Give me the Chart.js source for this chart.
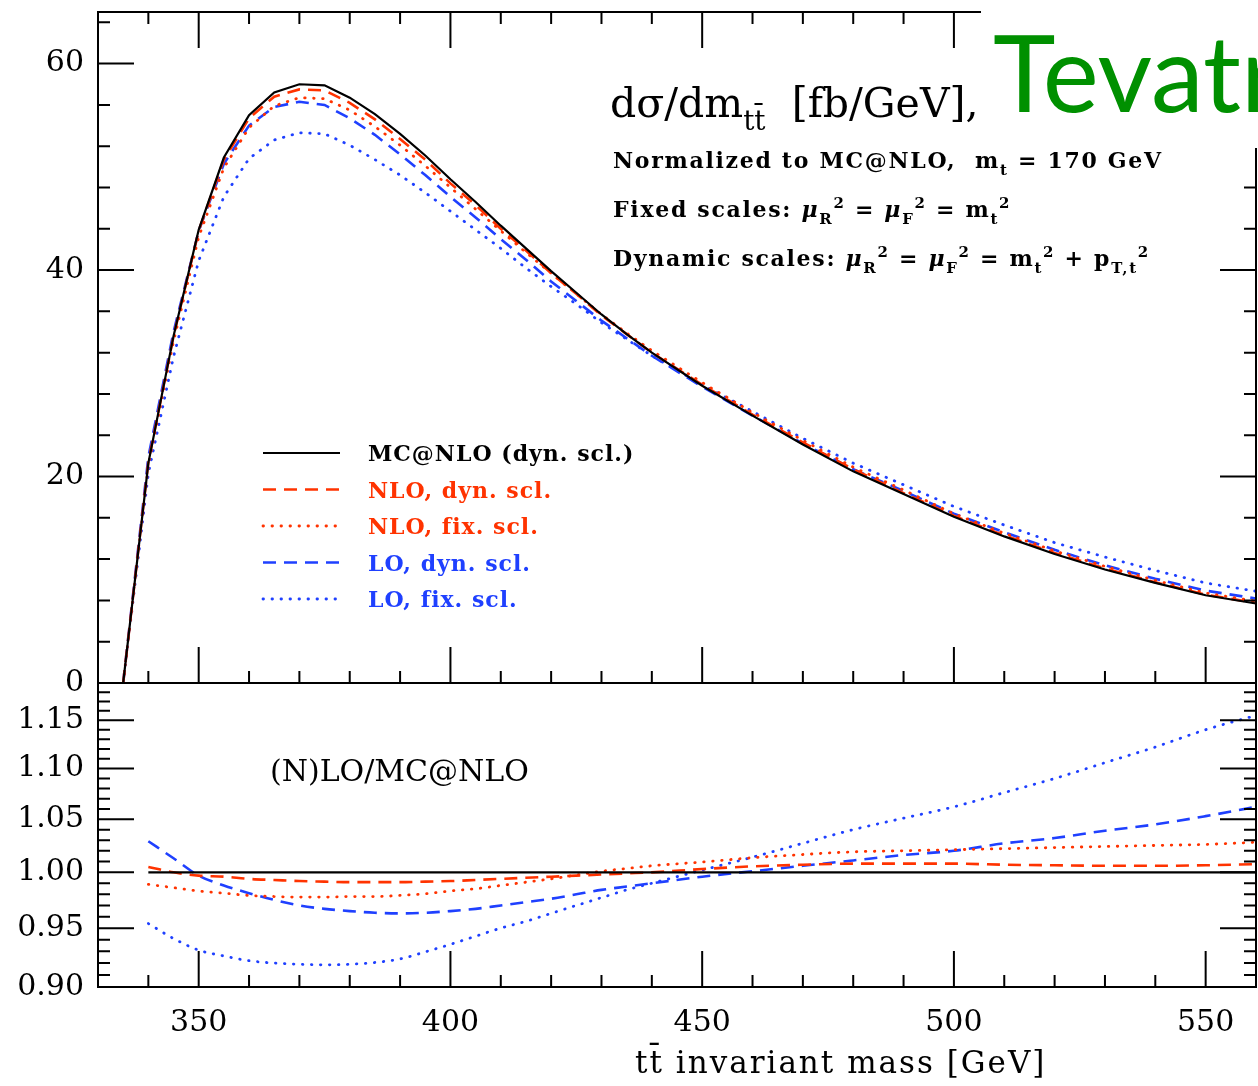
<!DOCTYPE html>
<html>
<head>
<meta charset="utf-8">
<script src="https://cdn.jsdelivr.net/npm/chart.js@4.4.1/dist/chart.umd.min.js"></script>
<style>
  body { margin: 0; background: #fff; }
  #wrap { position: relative; width: 1258px; height: 1086px; overflow: hidden; }
  canvas { position: absolute; left: 0; top: 0; }
</style>
</head>
<body>
<div id="wrap">
  <canvas id="ratio" width="1258" height="1086"></canvas>
  <canvas id="spectrum" width="1258" height="1086"></canvas>
</div>
<script>
// m(tt) bins for the spectrum [GeV]
const massTop = [335, 340, 345, 350, 355, 360, 365, 370, 375, 380, 385, 390, 395, 400, 405, 410, 415, 420, 425, 430, 435, 440,
                 450, 460, 470, 480, 490, 500, 510, 520, 530, 540, 550, 560];
// dsigma/dm [fb/GeV]
const mcatnlo = [0, 21.3, 33.6, 43.9, 50.9, 55.0, 57.2, 58.0, 57.9, 56.7, 55.1, 53.2, 51.1, 48.8, 46.6, 44.3, 42.1, 39.9, 37.8, 35.7, 33.8, 32.0,
                 28.8, 25.9, 23.1, 20.5, 18.3, 16.1, 14.2, 12.5, 11.0, 9.7, 8.5, 7.7];
const nloDyn = [0, 21.4, 33.6, 43.8, 50.7, 54.7, 56.8, 57.5, 57.4, 56.2, 54.6, 52.7, 50.7, 48.4, 46.3, 44.0, 41.9, 39.7, 37.7, 35.6, 33.8, 32.0,
                28.9, 26.0, 23.3, 20.7, 18.4, 16.2, 14.3, 12.6, 11.1, 9.76, 8.56, 7.76];
const nloFix = [0, 21.1, 33.1, 43.2, 49.9, 53.8, 55.9, 56.7, 56.6, 55.5, 53.9, 52.1, 50.1, 48.0, 45.9, 43.8, 41.7, 39.7, 37.7, 35.7, 33.9, 32.2,
                29.1, 26.2, 23.5, 20.9, 18.7, 16.4, 14.5, 12.8, 11.3, 9.94, 8.72, 7.92];
const loDyn = [0, 21.9, 34.0, 43.8, 50.3, 54.0, 55.8, 56.3, 56.0, 54.7, 53.1, 51.2, 49.2, 47.1, 45.1, 43.0, 41.0, 38.9, 37.0, 35.1, 33.4, 31.7,
               28.7, 25.9, 23.2, 20.7, 18.6, 16.4, 14.6, 12.9, 11.4, 10.1, 8.95, 8.18];
const loFix = [0, 20.3, 31.6, 40.9, 47.1, 50.8, 52.6, 53.3, 53.2, 52.1, 50.7, 49.2, 47.5, 45.7, 43.9, 42.1, 40.2, 38.4, 36.7, 34.9, 33.3, 31.7,
               28.9, 26.3, 23.7, 21.3, 19.2, 17.1, 15.3, 13.6, 12.2, 10.9, 9.69, 8.89];

// ratio panel, (N)LO / MC@NLO
const massRatio = [340, 345, 350, 355, 360, 365, 370, 375, 380, 385, 390, 395, 400, 405, 410, 415, 420, 425, 430, 435, 440,
                   450, 460, 470, 480, 490, 500, 510, 520, 530, 540, 550, 560];
const ratioNloDyn = [1.005, 1.000, 0.997, 0.996, 0.994, 0.993, 0.992, 0.9915, 0.991, 0.991, 0.991, 0.9915, 0.992, 0.993, 0.994, 0.995, 0.996, 0.997, 0.998, 0.999, 1.000,
                     1.003, 1.0055, 1.007, 1.008, 1.008, 1.008, 1.007, 1.0065, 1.006, 1.006, 1.0065, 1.0075];
const ratioNloFix = [0.989, 0.986, 0.983, 0.981, 0.979, 0.978, 0.9775, 0.9775, 0.978, 0.978, 0.979, 0.9805, 0.983, 0.985, 0.988, 0.991, 0.994, 0.9975, 1.001, 1.0035, 1.006,
                     1.0095, 1.0135, 1.0165, 1.019, 1.020, 1.021, 1.022, 1.023, 1.024, 1.025, 1.026, 1.028];
const ratioLoDyn = [1.029, 1.013, 0.997, 0.988, 0.981, 0.975, 0.970, 0.967, 0.965, 0.9635, 0.963, 0.9635, 0.965, 0.967, 0.970, 0.973, 0.976, 0.980, 0.984, 0.987, 0.990,
                    0.996, 1.001, 1.006, 1.011, 1.016, 1.020, 1.027, 1.032, 1.039, 1.045, 1.053, 1.062];
const ratioLoFix = [0.954, 0.941, 0.931, 0.926, 0.922, 0.920, 0.919, 0.9185, 0.919, 0.9205, 0.9235, 0.9295, 0.936, 0.943, 0.950, 0.956, 0.963, 0.970, 0.977, 0.984, 0.990,
                    1.002, 1.014, 1.027, 1.040, 1.051, 1.062, 1.076, 1.090, 1.106, 1.122, 1.140, 1.155];
const refMass = [340, 560];
const refRatio = [1, 1];

const seriesLabels = ['MC@NLO (dyn. scl.)', 'NLO, dyn. scl.', 'NLO, fix. scl.', 'LO, dyn. scl.', 'LO, fix. scl.'];
const specTicks = [0, 20, 40, 60];
const ratioTicks = [0.90, 0.95, 1.00, 1.05, 1.10, 1.15];
const massTicks = [350, 400, 450, 500, 550];

const RED = '#ff3300';
const BLUE = '#1f40ff';
const SOLID = [];
const DASH = [13, 8];
const DOT = [0.5, 8.5];
const SERIF = '"DejaVu Serif"';

function line(label, xs, ys, color, dash, width, smooth) {
    return {
        label: label,
        data: xs.map((x, i) => ({ x: x, y: ys[i] })),
        borderColor: color,
        borderDash: dash,
        borderWidth: width,
        borderCapStyle: dash === DOT ? 'round' : 'butt',
        pointRadius: 0,
        fill: false,
        tension: 0,
        cubicInterpolationMode: smooth ? 'monotone' : 'default'
    };
}

// draws a text made of runs (normal, sub, sup, italic)
function drawRuns(ctx, x, y, runs, size, spacing, weight) {
    let cx = x;
    ctx.letterSpacing = spacing + 'px';
    runs.forEach(r => {
        let s = size, dy = 0;
        if (r.sub) { s = size * 0.68; dy = size * 0.32; }
        if (r.sup) { s = size * 0.68; dy = -size * 0.42; }
        ctx.font = (r.it ? 'italic ' : '') + (weight || 'normal') + ' ' + s + 'px ' + SERIF;
        ctx.fillText(r.t, cx, y + dy);
        cx += ctx.measureText(r.t).width;
    });
    ctx.letterSpacing = '0px';
}

// frame + inward ticks on every side, like the original plot
const frameTicks = {
    id: 'frameTicks',
    afterDatasetsDraw(chart, args, opts) {
        const { ctx, chartArea: a } = chart;
        const xs = chart.scales.x, ys = chart.scales.y;
        ctx.save();
        ctx.strokeStyle = '#000';
        ctx.lineWidth = 2;
        ctx.beginPath();
        for (let m = 340; m < 560; m += 10) {
            const px = xs.getPixelForValue(m);
            const len = m % 50 === 0 ? 36 : 12;
            ctx.moveTo(px, a.bottom); ctx.lineTo(px, a.bottom - len);
            if (opts.top) { ctx.moveTo(px, a.top); ctx.lineTo(px, a.top + len); }
        }
        opts.yTicks.forEach(t => {
            const py = ys.getPixelForValue(t.v);
            ctx.moveTo(a.left, py); ctx.lineTo(a.left + t.len, py);
            ctx.moveTo(a.right, py); ctx.lineTo(a.right - t.len, py);
        });
        ctx.stroke();
        ctx.strokeRect(a.left, a.top, a.right - a.left, a.bottom - a.top);
        ctx.restore();
    }
};

const spectrumDecor = {
    id: 'spectrumDecor',
    afterDraw(chart) {
        const ctx = chart.ctx;
        ctx.save();
        ctx.fillStyle = '#000';
        ctx.textBaseline = 'alphabetic';
        ctx.textAlign = 'left';
        drawRuns(ctx, 610, 117, [{ t: 'd\u03c3/dm' }, { t: 'tt\u0304', sub: true }, { t: '  [fb/GeV],' }], 41, 0);
        drawRuns(ctx, 613, 168, [{ t: 'Normalized to MC@NLO,  m' }, { t: 't', sub: true }, { t: ' = 170 GeV' }], 22, 1.7, 'bold');
        drawRuns(ctx, 613, 217, [{ t: 'Fixed scales: ' }, { t: '\u03bc', it: true }, { t: 'R', sub: true }, { t: '2', sup: true },
            { t: ' = ' }, { t: '\u03bc', it: true }, { t: 'F', sub: true }, { t: '2', sup: true },
            { t: ' = m' }, { t: 't', sub: true }, { t: '2', sup: true }], 22, 1.7, 'bold');
        drawRuns(ctx, 613, 266, [{ t: 'Dynamic scales: ' }, { t: '\u03bc', it: true }, { t: 'R', sub: true }, { t: '2', sup: true },
            { t: ' = ' }, { t: '\u03bc', it: true }, { t: 'F', sub: true }, { t: '2', sup: true },
            { t: ' = m' }, { t: 't', sub: true }, { t: '2', sup: true }, { t: ' + p' }, { t: 'T,t', sub: true }, { t: '2', sup: true }], 22, 1.7, 'bold');

        // legend
        chart.data.datasets.forEach((ds, i) => {
            const y = 453 + i * 36.5;
            ctx.strokeStyle = ds.borderColor;
            ctx.lineWidth = ds.borderWidth;
            ctx.lineCap = ds.borderCapStyle;
            ctx.setLineDash(ds.borderDash);
            ctx.beginPath();
            ctx.moveTo(263, y); ctx.lineTo(340, y);
            ctx.stroke();
            ctx.setLineDash([]);
            ctx.fillStyle = ds.borderColor;
            drawRuns(ctx, 368, y + 8, [{ t: ds.label }], 22, 1.0, 'bold');
        });

        // pasted slide title covering the corner
        ctx.fillStyle = '#fff';
        ctx.fillRect(981, 0, 277, 148);
        ctx.fillStyle = '#009000';
        ctx.font = '106px Lato';
        ctx.fillText('Tevatron', 993, 112);
        ctx.restore();
    }
};

const ratioDecor = {
    id: 'ratioDecor',
    afterDraw(chart) {
        const ctx = chart.ctx;
        ctx.save();
        ctx.fillStyle = '#000';
        ctx.textBaseline = 'alphabetic';
        ctx.textAlign = 'left';
        drawRuns(ctx, 270, 781, [{ t: '(N)LO/MC@NLO' }], 30, 0);
        drawRuns(ctx, 635, 1073, [{ t: 'tt\u0304 invariant mass [GeV]' }], 31, 2);
        ctx.restore();
    }
};

const specMinor = [];
for (let v = 0; v <= 64; v += 4) specMinor.push({ v: v, len: v % 20 === 0 ? 36 : 12 });
const ratioMinor = [];
for (let i = 90; i <= 119; i++) ratioMinor.push({ v: i / 100, len: i % 5 === 0 ? 36 : 12 });

const yTickFont = { family: 'DejaVu Serif', size: 30 };

function fixWidth(s) {
    s.width = 98;
    s.paddingTop = 0;
    s.paddingBottom = 0;
}

new Chart(document.getElementById('ratio'), {
    type: 'line',
    data: {
        datasets: [
            line(seriesLabels[0], refMass, refRatio, '#000', SOLID, 2.2, false),
            line(seriesLabels[1], massRatio, ratioNloDyn, RED, DASH, 2.6, true),
            line(seriesLabels[2], massRatio, ratioNloFix, RED, DOT, 2.8, true),
            line(seriesLabels[3], massRatio, ratioLoDyn, BLUE, DASH, 2.6, true),
            line(seriesLabels[4], massRatio, ratioLoFix, BLUE, DOT, 2.8, true)
        ]
    },
    options: {
        responsive: false,
        animation: false,
        devicePixelRatio: 1,
        layout: { padding: { left: 0, right: 2, top: 683, bottom: 0 } },
        plugins: {
            legend: { display: false },
            tooltip: { enabled: false },
            frameTicks: { top: false, yTicks: ratioMinor }
        },
        scales: {
            x: {
                type: 'linear', min: 330, max: 560,
                grid: { display: false, drawTicks: false },
                border: { display: false },
                afterBuildTicks: s => { s.ticks = massTicks.map(v => ({ value: v })); },
                afterFit: s => { s.height = 99; },
                ticks: { font: yTickFont, color: '#000', padding: 18, maxRotation: 0 }
            },
            y: {
                type: 'logarithmic', min: 0.9, max: 1.19,
                grid: { display: false, drawTicks: false },
                border: { display: false },
                afterBuildTicks: s => { s.ticks = ratioTicks.map(v => ({ value: v })); },
                afterFit: fixWidth,
                ticks: { font: yTickFont, color: '#000', padding: 14, callback: v => Number(v).toFixed(2) }
            }
        }
    },
    plugins: [frameTicks, ratioDecor]
});

new Chart(document.getElementById('spectrum'), {
    type: 'line',
    data: {
        datasets: [
            line(seriesLabels[0], massTop, mcatnlo, '#000', SOLID, 2.2, false),
            line(seriesLabels[1], massTop, nloDyn, RED, DASH, 2.6, false),
            line(seriesLabels[2], massTop, nloFix, RED, DOT, 2.8, false),
            line(seriesLabels[3], massTop, loDyn, BLUE, DASH, 2.6, false),
            line(seriesLabels[4], massTop, loFix, BLUE, DOT, 2.8, false)
        ]
    },
    options: {
        responsive: false,
        animation: false,
        devicePixelRatio: 1,
        layout: { padding: { left: 0, right: 2, top: 12, bottom: 403 } },
        plugins: {
            legend: { display: false },
            tooltip: { enabled: false },
            frameTicks: { top: true, yTicks: specMinor }
        },
        scales: {
            x: { type: 'linear', min: 330, max: 560, display: false },
            y: {
                type: 'linear', min: 0, max: 65,
                grid: { display: false, drawTicks: false },
                border: { display: false },
                afterBuildTicks: s => { s.ticks = specTicks.map(v => ({ value: v })); },
                afterFit: fixWidth,
                ticks: { font: yTickFont, color: '#000', padding: 14 }
            }
        }
    },
    plugins: [frameTicks, spectrumDecor]
});
</script>
</body>
</html>
